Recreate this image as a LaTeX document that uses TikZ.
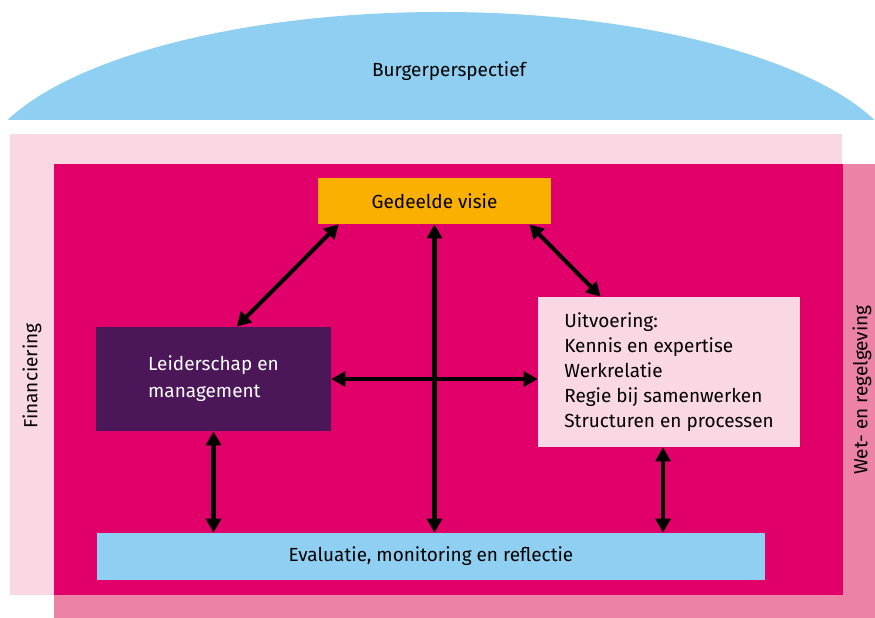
\documentclass[tikz,border=0pt]{standalone}
\usepackage{fontspec}
\setmainfont{Fira Sans}
\usetikzlibrary{arrows.meta}
\definecolor{lichtblauw}{HTML}{8FD0F2}
\definecolor{lichtroze}{HTML}{F9D7E3}
\definecolor{roze}{HTML}{EC82A6}
\definecolor{magenta}{HTML}{E1006A}
\definecolor{oranje}{HTML}{F9B000}
\definecolor{paars}{HTML}{4B1759}
\begin{document}
\begin{tikzpicture}[x=0.02cm,y=-0.02cm,
  font=\fontsize{10.8}{15.3}\selectfont,
  box/.style={inner sep=0pt, align=left},
  arr/.style={line width=2.3pt, {Triangle[length=8pt,width=8.5pt]}-{Triangle[length=8pt,width=8.5pt]}}]
\useasboundingbox (0,0) rectangle (875,618);
% burgerperspectief
\begin{scope}
\clip (0,0) rectangle (875,120);
\fill[lichtblauw] (441,180) ellipse [x radius=464, y radius=168];
\end{scope}
\node (burger) at (449,71) {Burgerperspectief};
% kaders
\fill[roze] (54,164) rectangle (875,618);
\fill[lichtroze] (10,134) rectangle (842,595);
\fill[magenta] (54,164) rectangle (843,595);
\node[rotate=90] (fin) at (32,376) {Financiering};
\node[rotate=90] (wet) at (862,390) {Wet- en regelgeving};
% blokken
\node[box, fill=oranje, minimum width=4.66cm, minimum height=0.92cm] (visie) at (434.5,201) {Gedeelde visie};
\node[box, fill=paars, text=white, minimum width=4.7cm, minimum height=2.08cm] (leider) at (213.5,379) {Leiderschap en\\management};
\node[box, fill=lichtroze, minimum width=5.24cm, minimum height=3cm, font=\fontsize{10.8}{14.3}\selectfont] (uitv) at (669,372) {Uitvoering:\\Kennis en expertise\\Werkrelatie\\Regie bij samenwerken\\Structuren en processen};
\node[box, fill=lichtblauw, minimum width=13.36cm, minimum height=0.94cm] (eval) at (431,556.5) {Evaluatie, monitoring en reflectie};
% pijlen
\coordinate (r) at ([xshift=-0.12cm]uitv.south);
\draw[arr] ([xshift=0.42cm]visie.south west) -- ([xshift=2.82cm]leider.north west);
\draw[arr] ([xshift=-0.44cm]visie.south east) -- ([xshift=1.26cm]uitv.north west);
\draw[arr] (visie.south) -- (visie.south |- eval.north);
\draw[arr] (leider.east) -- (leider.east -| uitv.west);
\draw[arr] (leider.south) -- (leider.south |- eval.north);
\draw[arr] (r) -- (r |- eval.north);
\end{tikzpicture}
\end{document}
